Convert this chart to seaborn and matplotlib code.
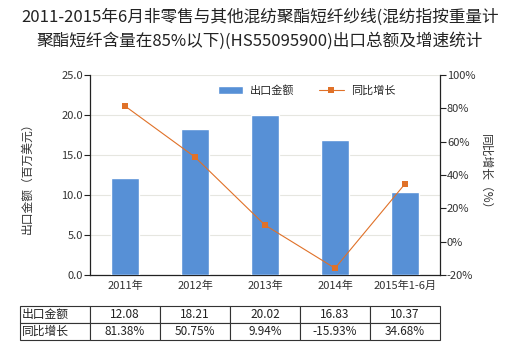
import matplotlib
matplotlib.use("Agg")
import matplotlib.pyplot as plt
import seaborn as sns
import pandas as pd
import numpy as np

categories = ["2011年", "2012年", "2013年", "2014年", "2015年1-6月"]
export_value = [12.08, 18.21, 20.02, 16.83, 10.37]
growth_pct = [81.38, 50.75, 9.94, -15.93, 34.68]
left_ticks = [0, 5, 10, 15, 20, 25]
right_ticks = [-20, 0, 20, 40, 60, 80, 100]
row_labels = ["出口金额", "同比增长"]

sns.set_theme(style="white")
plt.rcParams["font.family"] = ["Noto Sans CJK SC", "DejaVu Sans"]
plt.rcParams["axes.unicode_minus"] = False

df = pd.DataFrame({"year": categories, "value": export_value, "growth": growth_pct})

fig = plt.figure(figsize=(5.2, 3.5), dpi=100)
ax = fig.add_axes([90 / 520, 1 - 275 / 350, 350 / 520, 200 / 350])

bar_color = "#5790d6"
line_color = "#e07128"

sns.barplot(data=df, x="year", y="value", ax=ax, color=bar_color, width=0.4,
            saturation=1, label="出口金额", zorder=3)
if ax.get_legend() is not None:
    ax.get_legend().remove()
ax.set_xlim(-0.5, 4.5)
ax.set_ylim(0, 25)
ax.set_yticks(left_ticks)
ax.set_yticklabels([f"{t:.1f}" for t in left_ticks], fontsize=8, color="#333333")
ax.yaxis.grid(True, color="#e6e6e0", linewidth=0.8, zorder=0)
ax.set_axisbelow(True)
ax.set_xlabel("")
ax.set_ylabel("出口金额（百万美元）", fontsize=8.5, color="#333333", labelpad=20)
ax.tick_params(axis="y", length=4, width=0.8, color="#222222", pad=1, left=True)
ax.tick_params(axis="x", length=0, labelsize=8, labelcolor="#333333", pad=4)
for s in ["top", "right"]:
    ax.spines[s].set_visible(False)
for s in ["left", "bottom"]:
    ax.spines[s].set_color("#222222")
    ax.spines[s].set_linewidth(0.9)

ax2 = ax.twinx()
sns.lineplot(data=df, x="year", y="growth", ax=ax2, color=line_color, linewidth=0.8,
             marker="s", markersize=4, markeredgewidth=0, label="同比增长", legend=False,
             zorder=4)
ax2.set_ylim(-20, 100)
ax2.set_yticks(right_ticks)
ax2.set_yticklabels([f"{t}%" for t in right_ticks], fontsize=8, color="#333333")
ax2.set_ylabel("同比增长（%）", fontsize=8.5, color="#333333", rotation=270, labelpad=12)
ax2.tick_params(axis="y", length=4, width=0.8, color="#222222", pad=1, right=True)
ax2.grid(False)
for s in ["top", "left", "bottom"]:
    ax2.spines[s].set_visible(False)
ax2.spines["right"].set_color("#222222")
ax2.spines["right"].set_linewidth(0.9)
ax2.set_xlabel("")

h1, l1 = ax.get_legend_handles_labels()
h2, l2 = ax2.get_legend_handles_labels()
leg = ax2.legend(h1 + h2, l1 + l2, loc="upper center", bbox_to_anchor=(0.62, 1.0),
                 ncol=2, frameon=False, fontsize=8, handlelength=2.2,
                 columnspacing=2.2, handletextpad=0.7)

# data table under the plot: first column holds the row names
cell_text = [[row_labels[0]] + [f"{v:.2f}" for v in export_value],
             [row_labels[1]] + [f"{g:.2f}%" for g in growth_pct]]
tbl = ax.table(cellText=cell_text, colWidths=[1 / 6] * 6, cellLoc="center",
               bbox=[-0.2, -0.325, 1.2, 0.17])
tbl.auto_set_font_size(False)
tbl.set_fontsize(8.5)
for (r, c), cell in tbl.get_celld().items():
    cell.set_edgecolor("#333333")
    cell.set_linewidth(0.8)
    cell.get_text().set_color("#222222")
    if c == 0:
        cell.get_text().set_horizontalalignment("left")
        cell.PAD = 0.03

fig.text(0.5, 1 - 17 / 350, "2011-2015年6月非零售与其他混纺聚酯短纤纱线(混纺指按重量计",
         ha="center", va="center", fontsize=12, color="#222222")
fig.text(0.5, 1 - 41 / 350, "聚酯短纤含量在85%以下)(HS55095900)出口总额及增速统计",
         ha="center", va="center", fontsize=12, color="#222222")

fig.savefig("out.png", dpi=100)
